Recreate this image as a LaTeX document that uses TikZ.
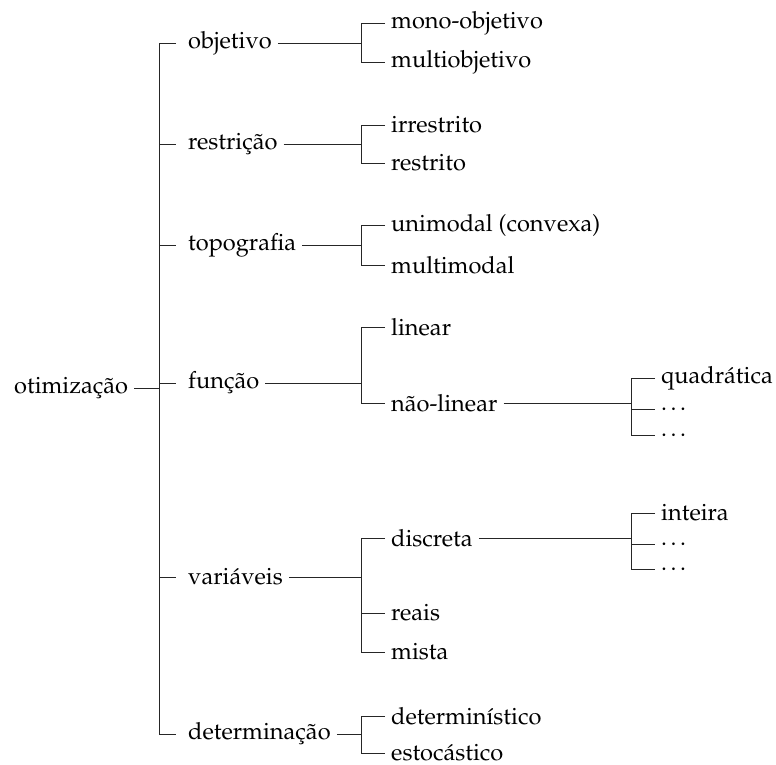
\documentclass[tikz,border=0pt]{standalone}
\usepackage[T1]{fontenc}
\usepackage{mathpazo}
\begin{document}
\begin{tikzpicture}[x=1pt,y=-1pt,
  lbl/.style={anchor=west,inner xsep=6pt,inner ysep=0pt,
    font=\fontsize{23.6}{28}\selectfont},
  link/.style={draw=black!85,line width=1pt}]
\useasboundingbox (0,0) rectangle (776,764);

% bracket columns
\coordinate (spine) at (159,0);
\coordinate (b2) at (361,0);
\coordinate (b3) at (631,0);

% root
\node[lbl] (root) at (8,388) {otimização};

% first level
\node[lbl] (obj) at (182,43)  {objetivo};
\node[lbl] (res) at (182,144) {restrição};
\node[lbl] (top) at (182,245) {topografia};
\node[lbl] (fun) at (182,383) {função};
\node[lbl] (var) at (182,577) {variáveis};
\node[lbl] (det) at (182,734) {determinação};

% second level
\node[lbl] (mono)   at (385,23)  {mono-objetivo};
\node[lbl] (multi)  at (385,62)  {multiobjetivo};
\node[lbl] (irr)    at (385,125) {irrestrito};
\node[lbl] (rest)   at (385,163) {restrito};
\node[lbl] (uni)    at (385,225) {unimodal (convexa)};
\node[lbl] (multim) at (385,265) {multimodal};
\node[lbl] (lin)    at (385,327) {linear};
\node[lbl] (nlin)   at (385,403) {não-linear};
\node[lbl] (disc)   at (385,538) {discreta};
\node[lbl] (reais)  at (385,613) {reais};
\node[lbl] (mista)  at (385,652) {mista};
\node[lbl] (detm)   at (385,716) {determinístico};
\node[lbl] (esto)   at (385,753) {estocástico};

% third level
\node[lbl] (quad) at (655,378) {quadrática};
\node[lbl] (nd1)  at (655,409) {\ldots};
\node[lbl] (nd2)  at (655,435) {\ldots};
\node[lbl] (int)  at (655,513) {inteira};
\node[lbl] (vd1)  at (655,544) {\ldots};
\node[lbl] (vd2)  at (655,569) {\ldots};

% trunk
\draw[link] (root.east) -- (root.east -| spine);
\draw[link,shorten <=6pt,shorten >=6pt]
  (obj.west) -- (obj.west -| spine) -- (det.west -| spine) -- (det.west);
\foreach \n in {res,top,fun,var}
  \draw[link,shorten >=6pt] (\n.west -| spine) -- (\n.west);

% second-level brackets
\foreach \p/\a/\b in {obj/mono/multi,res/irr/rest,top/uni/multim,
                      fun/lin/nlin,var/disc/mista,det/detm/esto}{
  \draw[link] (\p.east) -- (\p.east -| b2);
  \draw[link] (\a.west) -- (\a.west -| b2) -- (\b.west -| b2) -- (\b.west);
}
\draw[link] (reais.west -| b2) -- (reais.west);

% third-level brackets
\foreach \p/\a/\m/\b in {nlin/quad/nd1/nd2,disc/int/vd1/vd2}{
  \draw[link] (\p.east) -- (\p.east -| b3);
  \draw[link] (\a.west) -- (\a.west -| b3) -- (\b.west -| b3) -- (\b.west);
  \draw[link] (\m.west -| b3) -- (\m.west);
}
\end{tikzpicture}
\end{document}
